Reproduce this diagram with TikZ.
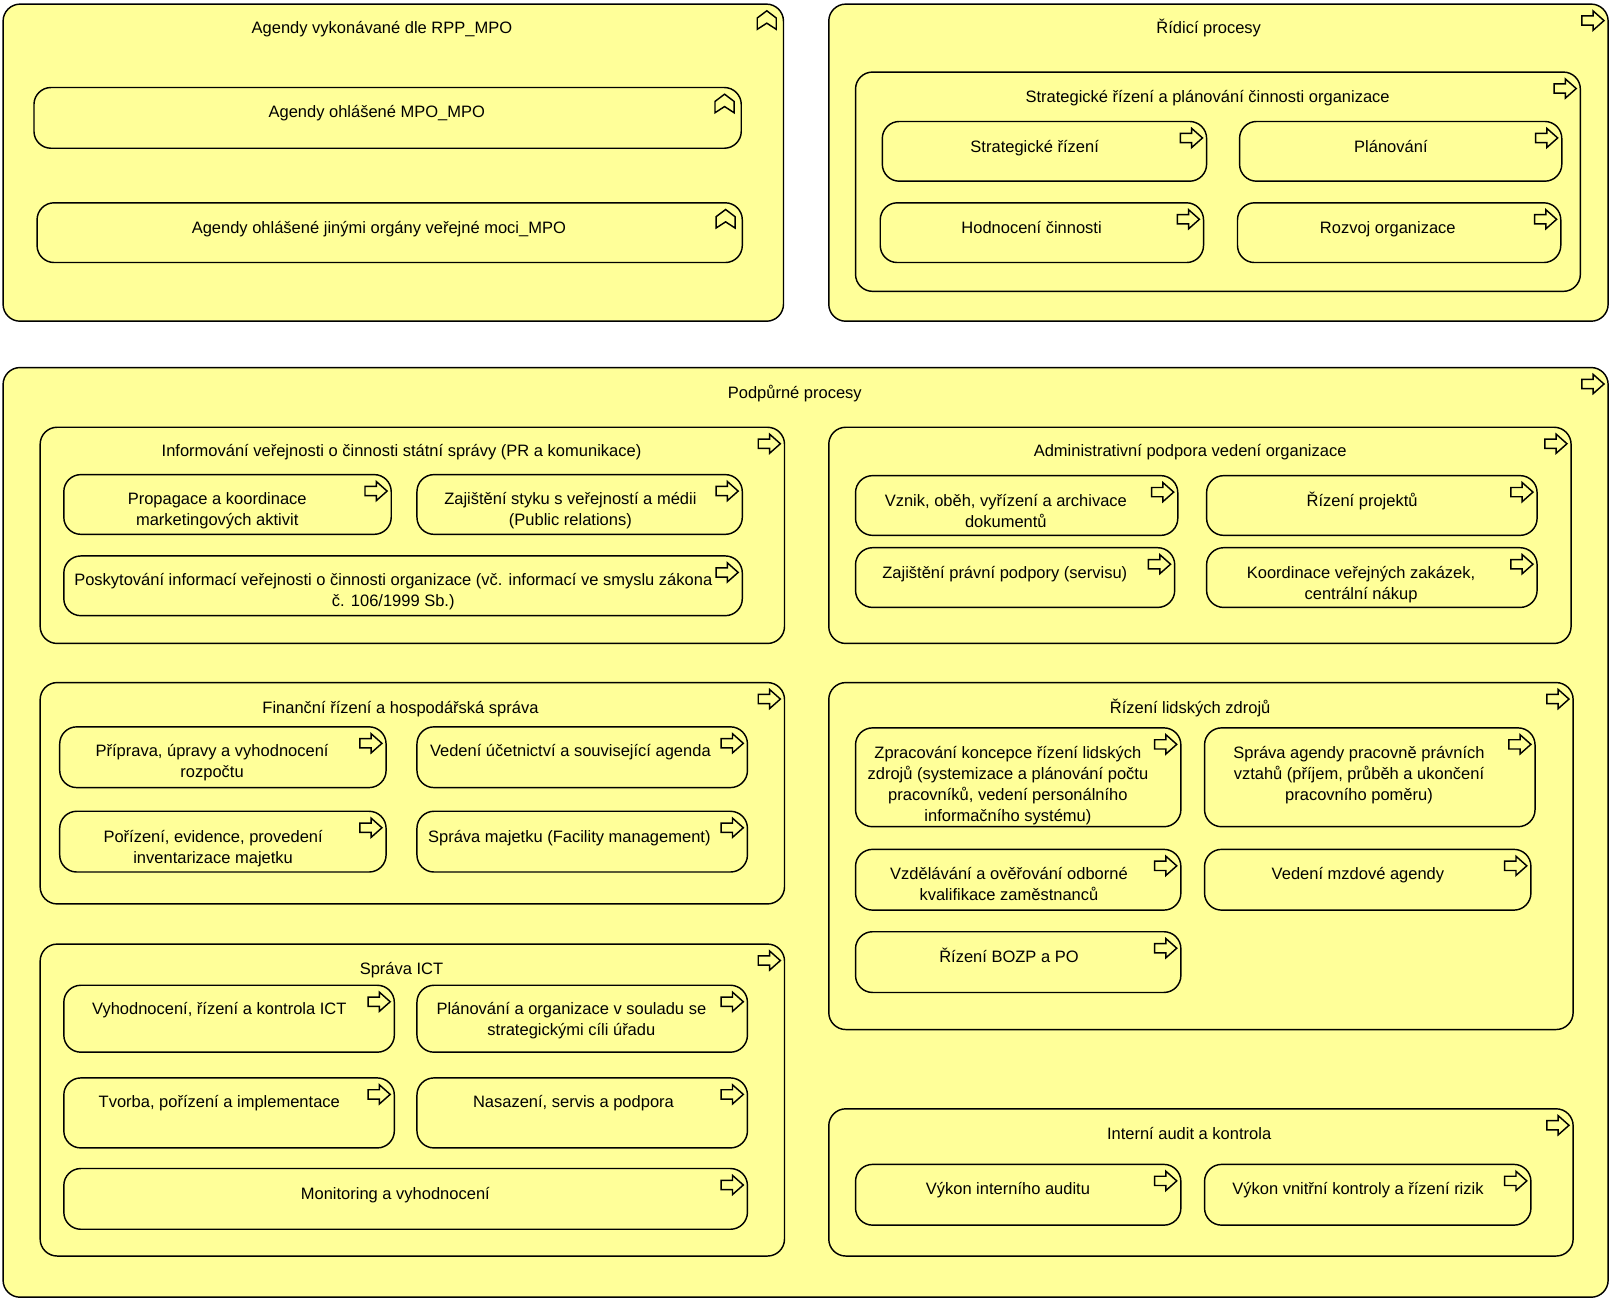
\documentclass[tikz,border=0pt]{standalone}
\usepackage{fontspec}
\setmainfont{Liberation Sans}
\definecolor{archi}{HTML}{FFFF99}
\tikzset{
  bx/.style={draw=black,fill=archi,line width=0.72pt,rounded corners=8.5pt,inner sep=0pt,outer sep=0pt,rectangle},
  lbl/.style={inner sep=0pt,outer sep=0pt,align=center,text=black,font=\fontsize{8.25}{10.45}\selectfont},
  ico/.style={draw=black,fill=archi,line width=0.72pt,line join=miter}
}
\def\uu{0.51475}
\newcommand{\nbox}[8]{%
  \pgfmathsetmacro{\bw}{(#4-#2)*\uu}\pgfmathsetmacro{\bh}{(#5-#3)*\uu}%
  \node[bx,anchor=north west,minimum width=\bw pt,minimum height=\bh pt] (#1) at (#2,#3) {};
  \node[lbl,anchor=north] (#1-t) at (#6,#7-8.2) {\strut #8};
}
\newcommand{\procbox}[8]{\nbox{#1}{#2}{#3}{#4}{#5}{#6}{#7}{#8}%
  \draw[ico,shift={(#1.north east)}] (-4,16)--(-14.5,6.7)--(-14.5,11.5)--(-25.5,11.5)--(-25.5,20.5)--(-14.5,20.5)--(-14.5,25.3)--cycle;
}
\newcommand{\agbox}[8]{\nbox{#1}{#2}{#3}{#4}{#5}{#6}{#7}{#8}%
  \draw[ico,shift={(#1.north east)}] (-25.5,24.5)--(-25.5,13.5)--(-16.2,6.5)--(-7,13.5)--(-7,24.5)--(-16.2,18.5)--cycle;
}
\begin{document}
\begin{tikzpicture}[x=0.51475pt,y=-0.51475pt]
\useasboundingbox (0,0) rectangle (1567.7,1266.6);
\agbox{A}{3}{4}{761}{312}{371}{27}{Agendy vykonávané dle RPP\_MPO}
\agbox{A1}{33}{85}{720}{144}{366}{108.5}{Agendy ohlášené MPO\_MPO}
\agbox{A2}{36}{197}{721}{255}{368}{221}{Agendy ohlášené jinými orgány veřejné moci\_MPO}
\procbox{B}{805}{4}{1562}{312}{1174}{27}{Řídicí procesy}
\procbox{B0}{831}{70}{1535}{283}{1173}{94}{Strategické řízení a plánování činnosti organizace}
\procbox{B1}{857}{118}{1172}{176}{1005}{142}{Strategické řízení}
\procbox{B2}{1204}{118}{1517}{176}{1351}{142}{Plánování}
\procbox{B3}{855}{197}{1169}{255}{1002}{221}{Hodnocení činnosti}
\procbox{B4}{1202}{197}{1516}{255}{1348}{221}{Rozvoj organizace}
\procbox{C}{3}{357}{1562}{1260}{772}{381}{Podpůrné procesy}
\procbox{C1}{39}{415}{762}{625}{390}{437.5}{Informování veřejnosti o činnosti státní správy (PR a komunikace)}
\procbox{C11}{62}{461}{380}{519}{211}{484}{Propagace a koordinace\\marketingových aktivit}
\procbox{C12}{405}{461}{721}{519}{554}{484}{Zajištění styku s veřejností a médii\\(Public relations)}
\procbox{C13}{62}{540}{721}{598}{382}{563}{Poskytování informací veřejnosti o činnosti organizace (vč. informací ve smyslu zákona\\č. 106/1999 Sb.)}
\procbox{C2}{805}{415}{1526}{625}{1156}{437.5}{Administrativní podpora vedení organizace}
\procbox{C21}{831}{462}{1144}{520}{977}{486}{Vznik, oběh, vyřízení a archivace\\dokumentů}
\procbox{C22}{1172}{462}{1493}{520}{1323}{486}{Řízení projektů}
\procbox{C23}{831}{532}{1141}{590}{976}{556}{Zajištění právní podpory (servisu)}
\procbox{C24}{1172}{532}{1493}{590}{1322}{556}{Koordinace veřejných zakázek,\\centrální nákup}
\procbox{C3}{39}{663}{762}{878}{389}{687}{Finanční řízení a hospodářská správa}
\procbox{C31}{58}{706}{375}{765}{206}{729}{Příprava, úpravy a vyhodnocení\\rozpočtu}
\procbox{C32}{405}{706}{726}{765}{554}{729}{Vedení účetnictví a související agenda}
\procbox{C33}{58}{788}{375}{847}{207}{812}{Pořízení, evidence, provedení\\inventarizace majetku}
\procbox{C34}{405}{788}{726}{847}{553}{812.5}{Správa majetku (Facility management)}
\procbox{C4}{805}{663}{1528}{1000}{1156}{687}{Řízení lidských zdrojů}
\procbox{C41}{831}{707}{1147}{803}{979}{731}{Zpracování koncepce řízení lidských\\zdrojů (systemizace a plánování počtu\\pracovníků, vedení personálního\\informačního systému)}
\procbox{C42}{1170}{707}{1491}{803}{1320}{731}{Správa agendy pracovně právních\\vztahů (příjem, průběh a ukončení\\pracovního poměru)}
\procbox{C43}{831}{825}{1147}{884}{980}{848}{Vzdělávání a ověřování odborné\\kvalifikace zaměstnanců}
\procbox{C44}{1170}{825}{1487}{884}{1319}{848}{Vedení mzdové agendy}
\procbox{C45}{831}{905}{1147}{964}{980}{929}{Řízení BOZP a PO}
\procbox{C5}{39}{917}{762}{1220}{390}{941}{Správa ICT}
\procbox{C51}{62}{957}{383}{1022}{213}{979.5}{Vyhodnocení, řízení a kontrola ICT}
\procbox{C52}{405}{957}{726}{1022}{555}{979.5}{Plánování a organizace v souladu se\\strategickými cíli úřadu}
\procbox{C53}{62}{1047}{383}{1115}{213}{1070}{Tvorba, pořízení a implementace}
\procbox{C54}{405}{1047}{726}{1115}{557}{1070}{Nasazení, servis a podpora}
\procbox{C55}{62}{1135}{726}{1194}{384}{1159}{Monitoring a vyhodnocení}
\procbox{C6}{805}{1077}{1528}{1220}{1155}{1101}{Interní audit a kontrola}
\procbox{C61}{831}{1131}{1147}{1190}{979}{1154}{Výkon interního auditu}
\procbox{C62}{1170}{1131}{1487}{1190}{1319}{1154}{Výkon vnitřní kontroly a řízení rizik}
\end{tikzpicture}
\end{document}
